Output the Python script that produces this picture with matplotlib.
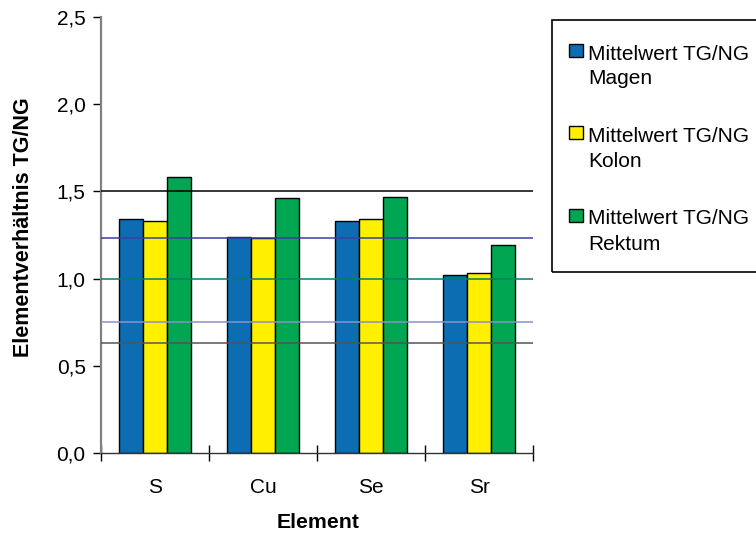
import numpy as np
import matplotlib
matplotlib.use("Agg")
import matplotlib.pyplot as plt
from matplotlib.patches import Rectangle

plt.rcParams["font.family"] = ["Liberation Sans", "DejaVu Sans"]

# Element ratios (tumour / normal tissue) per organ
elements = ["S", "Cu", "Se", "Sr"]
magen = [1.34, 1.24, 1.33, 1.02]
kolon = [1.33, 1.23, 1.34, 1.03]
rektum = [1.58, 1.46, 1.47, 1.19]
series_labels = ["Mittelwert TG/NG\nMagen", "Mittelwert TG/NG\nKolon", "Mittelwert TG/NG\nRektum"]
series_colors = ["#0d6db3", "#fff000", "#00a651"]

# Reference levels drawn across the plot
ref_levels = [1.5, 1.23, 1.0, 0.75, 0.63]
ref_colors = ["#000000", "#3a3fa0", "#00806a", "#8c8fcc", "#555555"]

W, H = 756, 533
fig = plt.figure(figsize=(W / 100, H / 100), dpi=100)
ax = fig.add_axes([101/W, 1-453/H, (533-101)/W, (453-17)/H])

x = np.arange(len(elements))
w = 0.22
for i, (vals, col, lab) in enumerate(zip([magen, kolon, rektum], series_colors, series_labels)):
    ax.bar(x + (i - 1) * w, vals, width=w, color=col, edgecolor="black",
           linewidth=1.0, label=lab, zorder=2)

for lvl, c in zip(ref_levels, ref_colors):
    ax.axhline(lvl, color=c, linewidth=1.1, zorder=3)

ax.set_xlim(-0.5, len(elements) - 0.5)
ax.set_ylim(0, 2.5)
yt = np.arange(0, 2.51, 0.5)
ax.set_yticks(yt)
ax.set_yticklabels([f"{v:.1f}".replace(".", ",") for v in yt])
ax.set_xticks(x)
ax.set_xticklabels(elements)
ax.set_xticks(np.arange(-0.5, len(elements)), minor=True)
ax.tick_params(axis="x", which="major", length=0, pad=18, labelsize=15)
ax.tick_params(axis="x", which="minor", direction="inout", length=11, width=1.0)
ax.tick_params(axis="y", direction="out", length=6, width=1.0, labelsize=15, pad=5)

for s in ["top", "right"]:
    ax.spines[s].set_visible(False)
ax.spines["left"].set_color("#808080")
ax.spines["left"].set_linewidth(1.6)
ax.spines["bottom"].set_color("#333333")
ax.spines["bottom"].set_linewidth(1.0)

ax.set_xlabel("Element", fontsize=15.3, fontweight="bold")
ax.xaxis.set_label_coords((318-101)/432, -(522-453)/436)
ax.set_ylabel("Elementverhältnis TG/NG", fontsize=15.5, fontweight="bold")
ax.yaxis.set_label_coords(-(101-24)/432, (453-227)/436)
ax.xaxis.label.set_va("center")
ax.yaxis.label.set_va("center")

# legend: box runs off the right edge, swatch sits next to the first text line
fig.patches.append(Rectangle((552/W, 1-272/H), 0.5, (272-20)/H, transform=fig.transFigure,
                             fill=False, edgecolor="black", linewidth=1.2))
for k, (lab, col) in enumerate(zip(series_labels, series_colors)):
    yc = 53 + k * 82.5
    fig.patches.append(Rectangle((569/W, 1-(yc+4)/H), 14/W, 13/H, transform=fig.transFigure,
                                 facecolor=col, edgecolor="black", linewidth=1.0))
    fig.text(588/W, 1-(yc-8.5)/H, lab, fontsize=15, va="top", ha="left", linespacing=1.4)

fig.savefig("out.png", dpi=100, facecolor="white")
